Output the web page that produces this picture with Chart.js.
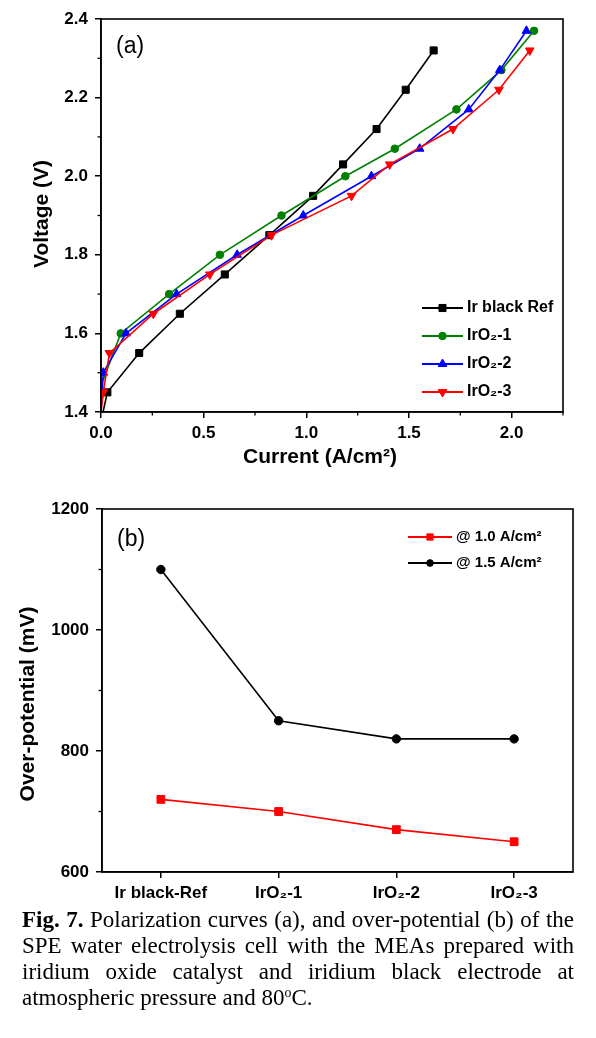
<!DOCTYPE html>
<html><head><meta charset="utf-8">
<script src="https://cdn.jsdelivr.net/npm/chart.js@4.4.1/dist/chart.umd.min.js"></script>
<style>
html,body{margin:0;padding:0;background:#fff;width:596px;height:1038px;overflow:hidden}
canvas{position:absolute;left:0}
#ca{top:0}
#cb{top:490px}
#cap{position:absolute;left:22px;top:907px;width:552px;font-family:"Liberation Serif","Times New Roman",serif;font-size:23px;line-height:26px;color:#000}
#cap .j{text-align:justify;text-align-last:justify}
#cap sup{font-size:60%;line-height:0;vertical-align:0;position:relative;top:-0.6em}
</style></head>
<body>
<canvas id="ca" width="596" height="470"></canvas>
<canvas id="cb" width="596" height="420"></canvas>
<div id="cap">
<div class="j"><b>Fig. 7.</b> Polarization curves (a), and over-potential (b) of the</div>
<div class="j">SPE water electrolysis cell with the MEAs prepared with</div>
<div class="j">iridium oxide catalyst and iridium black electrode at</div>
<div>atmospheric pressure and 80<sup>o</sup>C.</div>
</div>
<script>
// ---------- data: panel (a) polarization curves ----------
const seriesNamesA = ['Ir black Ref', 'IrO\u2082-1', 'IrO\u2082-2', 'IrO\u2082-3'];
const currentTicksA = [0.0, 0.5, 1.0, 1.5, 2.0];
const voltageTicksA = [1.4, 1.6, 1.8, 2.0, 2.2, 2.4];
const irBlackCurrent = [0.01, 0.031, 0.186, 0.384, 0.603, 0.82, 1.033, 1.179, 1.342, 1.484, 1.62];
const irBlackVoltage = [1.40, 1.45, 1.55, 1.65, 1.75, 1.85, 1.95, 2.03, 2.12, 2.22, 2.32];
const irO2_1Current = [0.01, 0.096, 0.332, 0.579, 0.879, 1.19, 1.431, 1.731, 1.95, 2.109];
const irO2_1Voltage = [1.48, 1.60, 1.70, 1.80, 1.90, 2.00, 2.07, 2.17, 2.27, 2.37];
const irO2_2Current = [0.0, 0.011, 0.122, 0.368, 0.663, 0.985, 1.317, 1.552, 1.791, 1.942, 2.072];
const irO2_2Voltage = [1.40, 1.50, 1.60, 1.70, 1.80, 1.90, 2.00, 2.07, 2.17, 2.27, 2.37];
const irO2_3Current = [0.0, 0.011, 0.041, 0.255, 0.53, 0.83, 1.22, 1.406, 1.714, 1.938, 2.088];
const irO2_3Voltage = [1.40, 1.45, 1.55, 1.65, 1.75, 1.85, 1.95, 2.03, 2.12, 2.22, 2.32];

// ---------- data: panel (b) over-potential ----------
const catalysts = ['Ir black-Ref', 'IrO\u2082-1', 'IrO\u2082-2', 'IrO\u2082-3'];
const seriesNamesB = ['@ 1.0 A/cm\u00b2', '@ 1.5 A/cm\u00b2'];
const overPotTicksB = [600, 800, 1000, 1200];
const overPot10 = [720, 700, 670, 650];
const overPot15 = [1100, 850, 820, 820];

Chart.defaults.font.family = '"Liberation Sans", Arial, Helvetica, sans-serif';
Chart.defaults.color = '#000';

function pts(xs, ys){ return xs.map((x,i)=>({x:x, y:ys[i]})); }
const setTicks = vals => s => { s.ticks = vals.map(v => ({ value: v })); };

const decor = {
  id: 'decor',
  afterDraw(chart, args, o) {
    const {ctx, chartArea: a} = chart;
    ctx.save();
    // frame
    ctx.strokeStyle = '#000'; ctx.lineWidth = 1.6;
    ctx.strokeRect(a.left, a.top, a.right - a.left, a.bottom - a.top);
    // minor ticks (midpoints of major ticks)
    ctx.lineWidth = 1.3;
    ['x','y'].forEach(id => {
      const s = chart.scales[id];
      if (!o.minor || !o.minor[id] || s.type === 'category') return;
      const vals = s.ticks.map(t => t.value);
      const step = vals[1] - vals[0];
      for (let v = vals[0] + step/2; v <= s.max + 1e-9; v += step) {
        const p = s.getPixelForValue(v);
        ctx.beginPath();
        if (id === 'x') { ctx.moveTo(p, a.bottom); ctx.lineTo(p, a.bottom + 3.5); }
        else { ctx.moveTo(a.left, p); ctx.lineTo(a.left - 3.5, p); }
        ctx.stroke();
      }
    });
    // panel label
    ctx.fillStyle = '#000';
    ctx.font = '23px "Liberation Sans", Arial, sans-serif';
    ctx.textBaseline = 'middle'; ctx.textAlign = 'left';
    ctx.fillText(o.label, o.labelX, o.labelY);
    // axis titles
    ctx.font = 'bold 21px "Liberation Sans", Arial, sans-serif';
    ctx.textAlign = 'center';
    if (o.xTitle) ctx.fillText(o.xTitle, o.xTitleX, o.xTitleY);
    ctx.save();
    ctx.translate(o.yTitleX, o.yTitleY); ctx.rotate(-Math.PI/2);
    ctx.fillText(o.yTitle, 0, 0);
    ctx.restore();
    // legend
    const lg = o.legend;
    ctx.font = 'bold ' + lg.size + 'px "Liberation Sans", Arial, sans-serif';
    ctx.textAlign = 'left';
    chart.data.datasets.forEach((ds, i) => {
      const y = lg.y + i * lg.dy;
      ctx.strokeStyle = ds.borderColor; ctx.lineWidth = 2;
      ctx.beginPath(); ctx.moveTo(lg.x0, y); ctx.lineTo(lg.x1, y); ctx.stroke();
      ctx.fillStyle = ds.pointBackgroundColor; ctx.strokeStyle = ds.pointBorderColor; ctx.lineWidth = 1;
      Chart.helpers.drawPoint(ctx, {pointStyle: ds.pointStyle, radius: ds.pointRadiusBase * lg.markerScale, rotation: ds.pointRotation || 0, borderWidth: 1}, (lg.x0 + lg.x1) / 2, y);
      ctx.fillStyle = '#000';
      ctx.fillText(ds.label, lg.x1 + 4, y);
    });
    ctx.restore();
  }
};

function mkDs(label, data, color, style, r, order, rot) {
  return {
    label, data, borderColor: color, backgroundColor: color,
    pointBackgroundColor: color, pointBorderColor: color,
    pointStyle: style, pointRadiusBase: r, pointRotation: rot || 0,
    pointRadius: ctx => ctx.dataIndex === 0 ? 0 : r,
    pointBorderWidth: 1, borderWidth: 1.6, tension: 0, order
  };
}

const axisGrid = { drawOnChartArea: false, drawTicks: true, tickLength: 6, color: '#000', lineWidth: 1.5 };
const axisBorder = { display: true, color: '#000', width: 1.6 };

// ---------- chart (a) ----------
new Chart(document.getElementById('ca'), {
  type: 'line',
  data: { datasets: [
    mkDs(seriesNamesA[0], pts(irBlackCurrent, irBlackVoltage), '#000000', 'rect', 5, 3),
    mkDs(seriesNamesA[1], pts(irO2_1Current, irO2_1Voltage), '#008000', 'circle', 3.8, 2),
    mkDs(seriesNamesA[2], pts(irO2_2Current, irO2_2Voltage), '#0000ff', 'triangle', 5, 1),
    mkDs(seriesNamesA[3], pts(irO2_3Current, irO2_3Voltage), '#ff0000', 'triangle', 5, 0, 180)
  ]},
  options: {
    responsive: false, animation: false, devicePixelRatio: 1,
    layout: { padding: { top: 19, right: 33, left: 0, bottom: 0 } },
    plugins: { legend: { display: false }, tooltip: { enabled: false },
      decor: { label: '(a)', labelX: 116, labelY: 47,
        minor: { x: true, y: true },
        xTitle: 'Current (A/cm\u00b2)', xTitleX: 320, xTitleY: 457,
        yTitle: 'Voltage (V)', yTitleX: 42, yTitleY: 214,
        legend: { x0: 422, x1: 463, y: 308, dy: 28, size: 16, markerScale: 1 } } },
    scales: {
      x: { type: 'linear', min: 0, max: 2.25,
        afterFit: s => { s.height = 58; },
        afterBuildTicks: setTicks(currentTicksA),
        ticks: { padding: 5, maxRotation: 0, font: { size: 17, weight: 'bold' }, callback: v => Number(v).toFixed(1) },
        grid: axisGrid, border: axisBorder },
      y: { type: 'linear', min: 1.4, max: 2.4,
        afterFit: s => { s.width = 101; },
        afterBuildTicks: setTicks(voltageTicksA),
        ticks: { padding: 7, font: { size: 17, weight: 'bold' }, callback: v => Number(v).toFixed(1) },
        grid: axisGrid, border: axisBorder }
    }
  },
  plugins: [decor]
});

// ---------- chart (b) ----------
new Chart(document.getElementById('cb'), {
  type: 'line',
  data: { labels: catalysts, datasets: [
    Object.assign(mkDs(seriesNamesB[0], overPot10, '#ff0000', 'rect', 5.5, 1), { pointRadius: 5.5 }),
    Object.assign(mkDs(seriesNamesB[1], overPot15, '#000000', 'circle', 4.2, 0), { pointRadius: 4.2 })
  ]},
  options: {
    responsive: false, animation: false, devicePixelRatio: 1,
    layout: { padding: { top: 19, right: 23, left: 0, bottom: 0 } },
    plugins: { legend: { display: false }, tooltip: { enabled: false },
      decor: { label: '(b)', labelX: 117, labelY: 50,
        minor: { y: true },
        xTitle: '', xTitleX: 0, xTitleY: 0,
        yTitle: 'Over-potential (mV)', yTitleX: 28, yTitleY: 214,
        legend: { x0: 408, x1: 452, y: 47, dy: 26, size: 15, markerScale: 0.8 } } },
    scales: {
      x: { type: 'category', offset: true,
        afterFit: s => { s.height = 38; },
        ticks: { padding: 5, maxRotation: 0, autoSkip: false, font: { size: 17, weight: 'bold' } },
        grid: Object.assign({}, axisGrid, { offset: false }), border: axisBorder },
      y: { type: 'linear', min: 600, max: 1200,
        afterFit: s => { s.width = 102; },
        afterBuildTicks: setTicks(overPotTicksB),
        ticks: { padding: 7, font: { size: 17, weight: 'bold' }, callback: v => String(v) },
        grid: axisGrid, border: axisBorder }
    }
  },
  plugins: [decor]
});
</script>
</body></html>
